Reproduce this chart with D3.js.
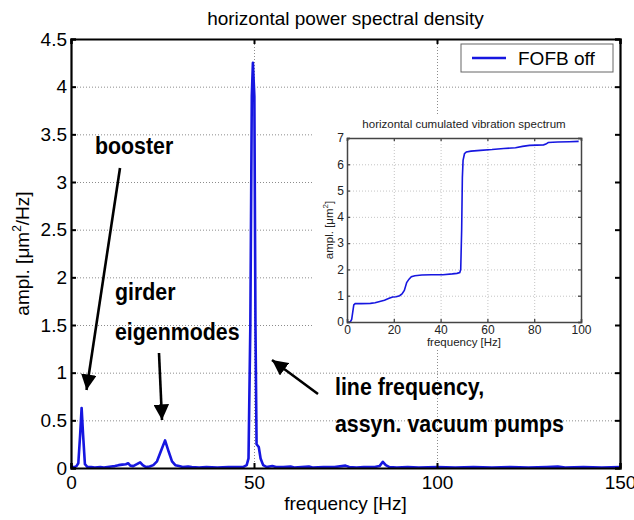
<!DOCTYPE html>
<html>
<head>
<meta charset="UTF-8">
<title>horizontal power spectral density</title>
<style>
  body { margin: 0; background: #fff; }
  svg { display: block; font-family: "Liberation Sans", Arial, sans-serif; }
  .grid line { stroke: #8c8c8c; stroke-dasharray: 1,2; stroke-width: 1; }
  .grid path { display: none; }
  .ax path, .ax line { stroke: #000; }
  .ax text { fill: #000; }
  .note { font-family: "Liberation Sans", Arial, sans-serif; font-weight: bold; font-size: 24px; fill: #000; }
</style>
<script src="https://d3js.org/d3.v7.min.js"></script>
</head>
<body>
<svg width="634" height="520"></svg>
<script>
// main spectrum (Hz, um^2/Hz)
var freq = [0, 0.5, 1, 1.5, 2, 2.5, 2.9, 3.3, 3.8, 4.5, 5.5, 6.5, 8, 9, 10, 11, 12, 13, 14, 15,
            15.6, 16.2, 17, 18, 18.9, 19.6, 20.5, 21.5, 22.5, 23.5, 24.5, 25.7, 26.7, 27.6, 28.5, 29.5,
            30.5, 32, 33, 35, 37, 40, 43, 45, 47, 48, 48.5, 49, 49.4, 49.7, 50.1, 50.4, 50.7, 51.3,
            51.8, 52.5, 53.5, 55, 56, 58, 60, 61, 63, 65, 66, 69, 72, 74, 75, 76, 78, 80, 83, 84.3,
            85.2, 86, 87, 89, 92, 95, 100, 105, 110, 115, 120, 125, 130, 133, 135, 140, 145, 150];
var psd  = [0.02, 0.01, 0.01, 0.02, 0.05, 0.35, 0.63, 0.35, 0.04, 0.01, 0.01, 0.005, 0.01, 0.005, 0.01, 0.015, 0.02, 0.03, 0.035, 0.04,
            0.05, 0.025, 0.02, 0.04, 0.06, 0.03, 0.01, 0.015, 0.03, 0.07, 0.17, 0.29, 0.17, 0.07, 0.03, 0.02,
            0.01, 0.015, 0.01, 0.005, 0.01, 0.005, 0.01, 0.01, 0.01, 0.03, 0.1, 1.5, 3.9, 4.25, 3.9, 1.5, 0.25, 0.22,
            0.1, 0.03, 0.01, 0.02, 0.01, 0.01, 0.015, 0.005, 0.01, 0.015, 0.005, 0.01, 0.01, 0.02, 0.025, 0.01, 0.005, 0.01, 0.01, 0.02,
            0.065, 0.03, 0.01, 0.005, 0.01, 0.005, 0.01, 0.005, 0.01, 0.005, 0.01, 0.005, 0.01, 0.015, 0.005, 0.01, 0.005, 0.01];

// cumulated spectrum (inset)
var cumFreq = [0, 1.4, 2, 2.5, 2.9, 3.5, 6, 10, 12, 14, 16, 18, 19.5, 21, 22.5, 23.5, 24.5, 25.5, 26.5, 27.5,
               29, 32, 36, 41, 45, 47, 48.2, 48.6, 49, 49.3, 49.6, 50.2, 51, 53, 57, 62, 67, 72, 75, 78,
               84, 85, 86, 90, 95, 99];
var cumVal  = [0, 0, 0.1, 0.4, 0.65, 0.7, 0.7, 0.71, 0.73, 0.78, 0.83, 0.9, 0.95, 0.96, 1.0, 1.07, 1.2, 1.5, 1.63, 1.72,
               1.76, 1.79, 1.8, 1.8, 1.83, 1.85, 1.88, 2.0, 3.5, 5.5, 6.15, 6.4, 6.47, 6.5, 6.53, 6.56, 6.6, 6.63, 6.68, 6.72,
               6.74, 6.77, 6.83, 6.85, 6.86, 6.87];

var xTicks = [0, 50, 100, 150];
var xTickLabels = ["0", "50", "100", "150"];
var yTicks = [0, 0.5, 1, 1.5, 2, 2.5, 3, 3.5, 4, 4.5];
var yTickLabels = ["0", "0.5", "1", "1.5", "2", "2.5", "3", "3.5", "4", "4.5"];
var inXTicks = [0, 20, 40, 60, 80, 100];
var inXTickLabels = ["0", "20", "40", "60", "80", "100"];
var inYTicks = [0, 1, 2, 3, 4, 5, 6, 7];
var inYTickLabels = ["0", "1", "2", "3", "4", "5", "6", "7"];

// annotations: text and arrows
var notes = [
  {text: "booster", x: 95, y: 154},
  {text: "girder", x: 115, y: 300},
  {text: "eigenmodes", x: 115, y: 340},
  {text: "line frequency,", x: 335, y: 395},
  {text: "assyn. vacuum pumps", x: 335, y: 432}
];
var arrows = [
  {x1: 120, y1: 168, x2: 86.5, y2: 390},
  {x1: 159, y1: 353, x2: 162, y2: 420},
  {x1: 318, y1: 394, x2: 272, y2: 360}
];

var svg = d3.select("svg");
var blue = "#1616e0";

//... main axes
var L = 71, R = 620, T = 39, B = 468;
var x = d3.scaleLinear().domain([0, 150]).range([L, R]);
var y = d3.scaleLinear().domain([0, 4.5]).range([B, T]);

svg.append("g").attr("class", "grid").attr("transform", "translate(0," + B + ")")
   .call(d3.axisBottom(x).tickValues([50, 100]).tickSize(-(B - T)).tickFormat(""));
svg.append("g").attr("class", "grid").attr("transform", "translate(" + L + ",0)")
   .call(d3.axisLeft(y).tickValues(yTicks.slice(1, -1)).tickSize(-(R - L)).tickFormat(""));

svg.append("path")
   .datum(d3.zip(freq, psd))
   .attr("fill", "none").attr("stroke", blue).attr("stroke-width", 2.6)
   .attr("stroke-linejoin", "round")
   .attr("d", d3.line().x(d => x(d[0])).y(d => y(d[1])));

//... inset
var iL = 347, iR = 581, iT = 138, iB = 322;
var ix = d3.scaleLinear().domain([0, 100]).range([iL, iR]);
var iy = d3.scaleLinear().domain([0, 7]).range([iB, iT]);

svg.append("rect").attr("x", 312).attr("y", 115).attr("width", 306).attr("height", 235).attr("fill", "#fff");

svg.append("g").attr("class", "grid").attr("transform", "translate(0," + iB + ")")
   .call(d3.axisBottom(ix).tickValues(inXTicks.slice(1, -1)).tickSize(-(iB - iT)).tickFormat(""))
   .selectAll("line").style("stroke", "#c4c4c4");
svg.append("g").attr("class", "grid").attr("transform", "translate(" + iL + ",0)")
   .call(d3.axisLeft(iy).tickValues(inYTicks.slice(1, -1)).tickSize(-(iR - iL)).tickFormat(""))
   .selectAll("line").style("stroke", "#c4c4c4");

svg.append("path")
   .datum(d3.zip(cumFreq, cumVal))
   .attr("fill", "none").attr("stroke", blue).attr("stroke-width", 1.6)
   .attr("d", d3.line().x(d => ix(d[0])).y(d => iy(d[1])));

var inAx = [
  svg.append("g").attr("transform", "translate(0," + iB + ")")
     .call(d3.axisBottom(ix).tickValues(inXTicks).tickSize(-3).tickPadding(3).tickFormat((d, i) => inXTickLabels[i])),
  svg.append("g").attr("transform", "translate(" + iL + ",0)")
     .call(d3.axisLeft(iy).tickValues(inYTicks).tickSize(-3).tickPadding(3).tickFormat((d, i) => inYTickLabels[i])),
  svg.append("g").attr("transform", "translate(0," + iT + ")").call(d3.axisTop(ix).tickValues(inXTicks).tickSize(-3).tickFormat("")),
  svg.append("g").attr("transform", "translate(" + iR + ",0)").call(d3.axisRight(iy).tickValues(inYTicks).tickSize(-3).tickFormat(""))
];
inAx.forEach(function(g) {
  g.selectAll("path, line").attr("stroke", "#444").attr("stroke-width", 1.3);
  g.selectAll("text").attr("font-size", 12).attr("fill", "#222").attr("font-family", null);
  g.select(".domain").attr("stroke-width", 1.5);
});

svg.append("text").attr("x", (iL + iR) / 2).attr("y", 128).attr("text-anchor", "middle")
   .attr("font-size", 11.5).attr("fill", "#222").text("horizontal cumulated vibration spectrum");
svg.append("text").attr("x", (iL + iR) / 2).attr("y", 346).attr("text-anchor", "middle")
   .attr("font-size", 11.5).attr("fill", "#222").text("frequency [Hz]");
var iyl = svg.append("text").attr("transform", "translate(333," + (iT + iB) / 2 + ") rotate(-90)")
   .attr("text-anchor", "middle").attr("font-size", 11.5).attr("fill", "#222");
iyl.append("tspan").text("ampl. [\u03bcm");
iyl.append("tspan").attr("font-size", 8).attr("dy", -5).text("2");
iyl.append("tspan").attr("dy", 5).text("]");

//... main frame, ticks on all four sides
var ax = [
  svg.append("g").attr("class", "ax").attr("transform", "translate(0," + B + ")")
     .call(d3.axisBottom(x).tickValues(xTicks).tickSize(-5).tickPadding(8).tickFormat((d, i) => xTickLabels[i])),
  svg.append("g").attr("class", "ax").attr("transform", "translate(" + L + ",0)")
     .call(d3.axisLeft(y).tickValues(yTicks).tickSize(-5).tickPadding(4).tickFormat((d, i) => yTickLabels[i])),
  svg.append("g").attr("class", "ax").attr("transform", "translate(0," + T + ")")
     .call(d3.axisTop(x).tickValues(xTicks).tickSize(-5).tickFormat("")),
  svg.append("g").attr("class", "ax").attr("transform", "translate(" + R + ",0)")
     .call(d3.axisRight(y).tickValues(yTicks).tickSize(-5).tickFormat(""))
];
ax.forEach(function(g) {
  g.select(".domain").attr("stroke-width", 2.2);
  g.selectAll(".tick line").attr("stroke-width", 2);
  g.selectAll("text").attr("font-size", 19).attr("font-family", null);
});

svg.append("text").attr("x", (L + R) / 2).attr("y", 25).attr("text-anchor", "middle")
   .attr("font-size", 19).text("horizontal power spectral density");
svg.append("text").attr("x", (L + R) / 2).attr("y", 510).attr("text-anchor", "middle")
   .attr("font-size", 19).text("frequency [Hz]");
var yl = svg.append("text").attr("transform", "translate(29," + (T + B) / 2 + ") rotate(-90)")
   .attr("text-anchor", "middle").attr("font-size", 19);
yl.append("tspan").text("ampl. [\u03bcm");
yl.append("tspan").attr("font-size", 12).attr("dy", -8).text("2");
yl.append("tspan").attr("dy", 8).text("/Hz]");

//... legend
var lg = svg.append("g");
lg.append("rect").attr("x", 461).attr("y", 44).attr("width", 152).attr("height", 28)
  .attr("fill", "#fff").attr("stroke", "#666").attr("stroke-width", 1);
lg.append("line").attr("x1", 472).attr("x2", 506).attr("y1", 58).attr("y2", 58)
  .attr("stroke", blue).attr("stroke-width", 2.6);
lg.append("text").attr("x", 518).attr("y", 65).attr("font-size", 19).text("FOFB off");

//... annotations
svg.append("defs").append("marker")
   .attr("id", "head").attr("viewBox", "0 0 10 10").attr("refX", 10).attr("refY", 5)
   .attr("markerWidth", 6).attr("markerHeight", 6).attr("markerUnits", "strokeWidth")
   .attr("orient", "auto")
   .append("path").attr("d", "M0,0L10,5L0,10z").attr("fill", "#000");

svg.selectAll("line.arrow").data(arrows).enter().append("line").attr("class", "arrow")
   .attr("x1", d => d.x1).attr("y1", d => d.y1).attr("x2", d => d.x2).attr("y2", d => d.y2)
   .attr("stroke", "#000").attr("stroke-width", 2.6).attr("marker-end", "url(#head)");

// bold labels are condensed in the original, squeeze them horizontally
svg.selectAll("text.note").data(notes).enter().append("text").attr("class", "note")
   .attr("transform", d => "translate(" + d.x + "," + d.y + ") scale(0.89,1)")
   .text(d => d.text);
</script>
</body>
</html>
